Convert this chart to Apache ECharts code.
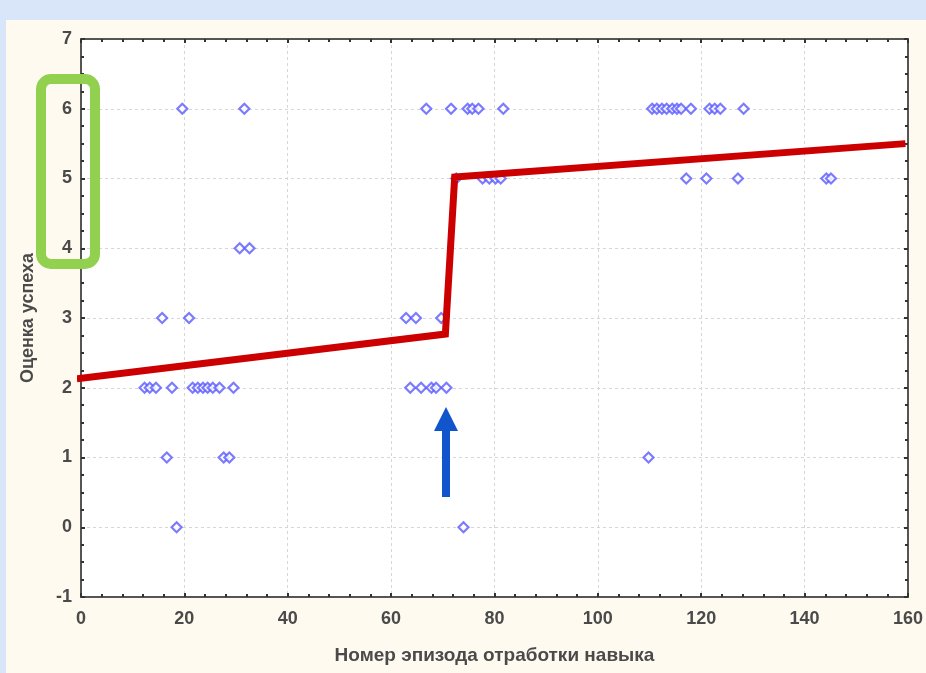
<!DOCTYPE html>
<html><head><meta charset="utf-8">
<script src="https://cdn.jsdelivr.net/npm/echarts@6/dist/echarts.min.js"></script>
<style>
html,body{margin:0;padding:0;background:#d9e6fa;}
#bg{position:absolute;left:6px;top:20px;width:920px;height:653px;background:#fefaf0;}
#chart{position:absolute;left:0;top:0;width:926px;height:673px;}
</style></head>
<body><div id="bg"></div><div id="chart"></div>
<script>
// Data
const xTickLabels = ['0','20','40','60','80','100','120','140','160'];
const yTickLabels = ['-1','0','1','2','3','4','5','6','7'];
const xName = 'Номер эпизода отработки навыка';
const yName = 'Оценка успеха';

const score6X = [19.6, 31.6, 66.8, 71.6, 74.8, 75.7, 76.9, 81.7, 110.5, 111.4, 112.4, 113.3, 114.4, 115.3, 116.1, 118, 121.6, 122.6, 123.7, 128.2];
const score5X = [72.6, 77.7, 79, 80.2, 81.2, 117.1, 121, 127.1, 144.2, 145.1];
const score4X = [30.7, 32.6];
const score3X = [15.7, 20.9, 62.9, 64.8, 69.7];
const score2X = [12.3, 13.3, 14.5, 17.6, 21.6, 22.6, 23.6, 24.5, 25.5, 26.8, 29.5, 63.7, 65.8, 67.8, 68.7, 70.7];
const score1X = [16.6, 27.6, 28.7, 109.8];
const score0X = [18.5, 74];

const fitX = [-0.8, 70.5, 72.3, 159.5];
const fitY = [2.13, 2.77, 5.02, 5.5];

const points = [];
[[6, score6X],[5, score5X],[4, score4X],[3, score3X],[2, score2X],[1, score1X],[0, score0X]].forEach(([s, xs]) => xs.forEach(x => points.push([x, s])));
const fitLine = fitX.map((x, i) => [x, fitY[i]]);

const chart = echarts.init(document.getElementById('chart'));
const FONT = 'Liberation Sans, Arial, sans-serif';
const labelFont = {fontFamily: FONT, fontSize: 18, fontWeight: 'bold', color: '#4a4a4a'};
const frameLine = {show: true, onZero: false, lineStyle: {color: '#555', width: 2}};
const tick = {show: true, inside: true, length: 4, lineStyle: {color: '#333', width: 2}};
const grid = {show: true, lineStyle: {color: '#d6d6d6', type: [3, 3], width: 1}};
chart.setOption({
  backgroundColor: 'transparent',
  animation: false,
  grid: {left: 81, right: 18, top: 39, bottom: 76, show: true, backgroundColor: '#ffffff', borderWidth: 0},
  xAxis: [{
    type: 'value', min: 0, max: 160, interval: 20, position: 'bottom',
    name: xName, nameLocation: 'middle', nameGap: 49,
    nameTextStyle: {fontFamily: FONT, fontSize: 19, fontWeight: 'bold', color: '#4a4a4a'},
    axisLine: frameLine, axisTick: tick,
    minorTick: {show: true, splitNumber: 5, length: 3, lineStyle: {color: '#333', width: 2}},
    axisLabel: Object.assign({margin: 13, formatter: v => xTickLabels[Math.round(v / 20)]}, labelFont),
    splitLine: grid
  }, {
    type: 'value', min: 0, max: 160, interval: 20, position: 'top',
    axisLine: frameLine, axisTick: tick,
    minorTick: {show: true, splitNumber: 5, length: 3, lineStyle: {color: '#333', width: 2}},
    axisLabel: {show: false}, splitLine: {show: false}
  }],
  yAxis: [{
    type: 'value', min: -1, max: 7, interval: 1, position: 'left',
    name: yName, nameLocation: 'middle', nameGap: 44, nameRotate: 90,
    nameTextStyle: {fontFamily: FONT, fontSize: 18, fontWeight: 'bold', color: '#4a4a4a'},
    axisLine: frameLine, axisTick: tick,
    minorTick: {show: true, splitNumber: 4, length: 3, lineStyle: {color: '#333', width: 2}},
    axisLabel: Object.assign({margin: 9, formatter: v => yTickLabels[Math.round(v + 1)]}, labelFont),
    splitLine: grid
  }, {
    type: 'value', min: -1, max: 7, interval: 1, position: 'right',
    axisLine: frameLine, axisTick: tick,
    minorTick: {show: true, splitNumber: 4, length: 3, lineStyle: {color: '#333', width: 2}},
    axisLabel: {show: false}, splitLine: {show: false}
  }],
  series: [{
    type: 'scatter', data: points, symbol: 'diamond', symbolSize: [10, 10],
    itemStyle: {color: '#ffffff', borderColor: '#5a5aff', borderWidth: 2.2}, z: 3
  }, {
    type: 'line', data: fitLine, symbol: 'none', clip: false,
    lineStyle: {color: '#cc0000', width: 7, cap: 'butt', join: 'miter'}, z: 5
  }],
  graphic: [{
    type: 'rect', silent: true, z: 100,
    shape: {x: 41, y: 79, width: 54, height: 185, r: 10},
    style: {fill: 'none', stroke: '#92d050', lineWidth: 10}
  }, {
    type: 'polygon', silent: true, z: 100,
    shape: {points: [[442, 497], [450, 497], [450, 431], [458, 431], [446, 407], [434, 431], [442, 431]]},
    style: {fill: '#1155cc'}
  }]
});
</script></body></html>
